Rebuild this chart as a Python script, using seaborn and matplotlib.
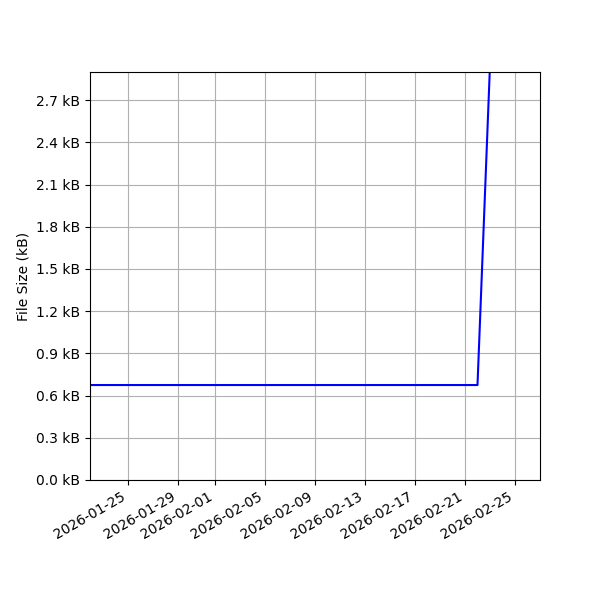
import pandas as pd
import seaborn as sns
import matplotlib.pyplot as plt
import matplotlib.dates as mdates
from matplotlib.ticker import MultipleLocator, FuncFormatter

# Datos
fechas = ['2026-01-22', '2026-02-22', '2026-02-23']
tamanos_kb = [0.675, 0.675, 2.95]

df = pd.DataFrame({'fecha': pd.to_datetime(fechas), 'tamano': tamanos_kb})

fig, ax = plt.subplots(figsize=(6, 6), dpi=100)
sns.lineplot(x='fecha', y='tamano', data=df, color='blue', ax=ax)

ax.set_xlim(pd.Timestamp('2026-01-22'), pd.Timestamp('2026-02-27'))
ax.set_ylim(0, 2.9)
ax.yaxis.set_major_locator(MultipleLocator(0.3))
ax.yaxis.set_major_formatter(FuncFormatter(lambda v, p: f'{v:.1f} kB'))
ax.xaxis.set_major_locator(mdates.DayLocator(bymonthday=[1, 5, 9, 13, 17, 21, 25, 29]))
ax.xaxis.set_major_formatter(mdates.DateFormatter('%Y-%m-%d'))

ax.set_xlabel('')
ax.set_ylabel('File Size (kB)')
ax.grid(True)

fig.autofmt_xdate()
fig.subplots_adjust(left=0.15, right=0.9, top=0.88, bottom=0.2)
plt.savefig('out.png')
